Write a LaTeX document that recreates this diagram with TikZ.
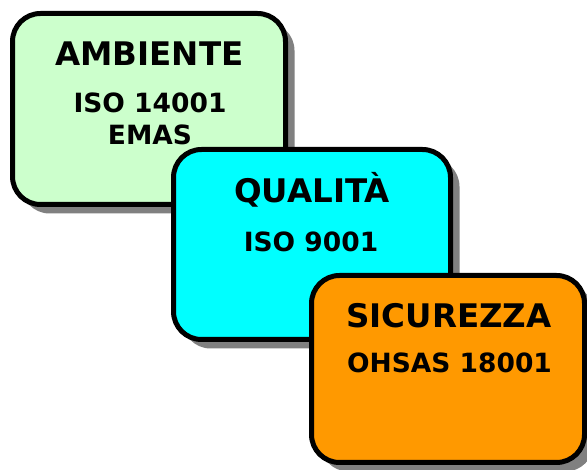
\documentclass[tikz,border=0pt]{standalone}
\usepackage{fontspec}
\setmainfont{DejaVu Sans}
\usetikzlibrary{shadows,positioning}
\definecolor{verde}{HTML}{CCFFCC}
\definecolor{ciano}{HTML}{00FFFF}
\definecolor{arancio}{HTML}{FF9900}
\tikzset{
	riquadro/.style={draw, line width=5pt, rounded corners=28pt, inner sep=0pt,
		drop shadow={shadow xshift=9pt, shadow yshift=-9pt, fill=black!50, opacity=1}},
	titolo/.style={font=\bfseries\fontsize{32.5}{32}\selectfont, anchor=base, inner sep=0pt},
	norma/.style={font=\bfseries\fontsize{26.5}{32}\selectfont, anchor=base, inner sep=0pt, align=center}
}

\begin{document}
\begin{tikzpicture}[x=1pt, y=-1pt]
	\useasboundingbox (0, 0) rectangle (587, 470);
	% ambiente
	\node [riquadro, fill=verde, minimum width=273pt, minimum height=191pt] (ambiente) at (149, 109) {};
	\node [titolo] (ambT) at (149.5, 66) {AMBIENTE};
	\node [norma] (ambN) at (150, 145) {ISO 14001\\EMAS};
	% qualita
	\node [riquadro, fill=ciano, minimum width=277pt, minimum height=190pt] (qualita) at (312, 244.5) {};
	\node [titolo] (qualT) at (312, 203) {QUALITÀ};
	\node [norma] (qualN) at (311, 252) {ISO 9001};
	% sicurezza
	\node [riquadro, fill=arancio, minimum width=273pt, minimum height=187pt] (sicurezza) at (448, 369) {};
	\node [titolo] (sicT) at (449, 328) {SICUREZZA};
	\node [norma] (sicN) at (449.5, 373) {OHSAS 18001};
\end{tikzpicture}
\end{document}
